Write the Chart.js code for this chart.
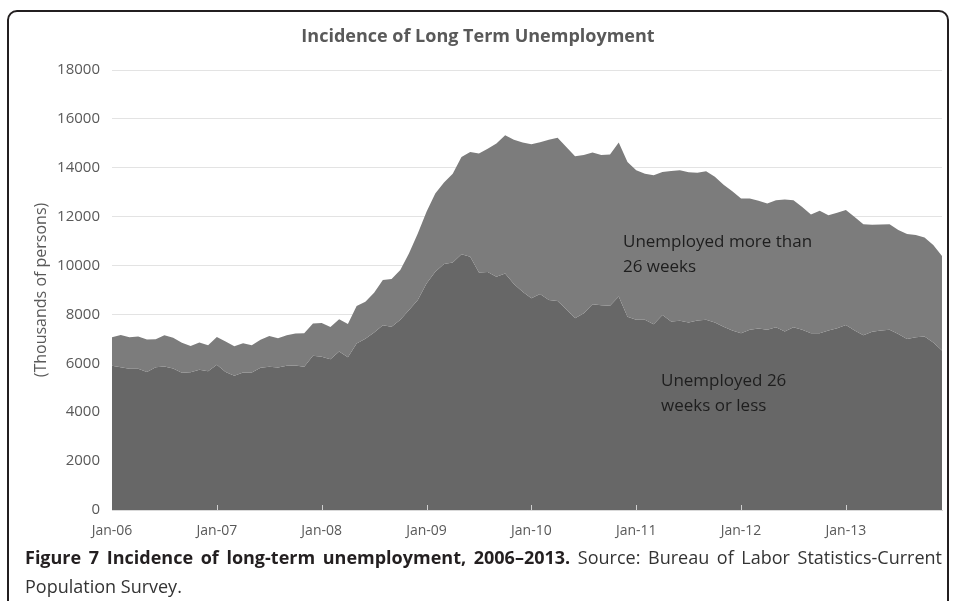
<!DOCTYPE html>
<html>
<head>
<meta charset="utf-8">
<script src="https://cdn.jsdelivr.net/npm/chart.js@4"></script>
<style>
  html, body { margin: 0; padding: 0; background: #fff; }
  body { width: 956px; height: 601px; overflow: hidden; position: relative; font-family: 'Open Sans', sans-serif; }
  #frame { position: absolute; left: 7px; top: 10px; width: 938px; height: 640px; border: 2px solid #231f20; border-radius: 10px 10px 0 0; }
  #wrap { position: absolute; left: 0; top: 0; width: 956px; height: 545px; }
  .title { position: absolute; top: 23px; left: 0; width: 956px; text-align: center; font-weight: bold; font-size: 18px; line-height: 24px; color: #595959; }
  .note { position: absolute; font-size: 17px; line-height: 25px; color: #1e1e1e; white-space: nowrap; }
  #caption { position: absolute; left: 25px; top: 543px; width: 917px; font-size: 18px; line-height: 29px; color: #333; text-align: justify; text-align-last: left; }
  #caption b { color: #231f20; }
</style>
</head>
<body>
<div id="frame"></div>
<div id="wrap"><canvas id="chart" width="956" height="545"></canvas></div>
<div class="title">Incidence of Long Term Unemployment</div>
<div class="note" style="left:623px; top:228px;">Unemployed more than<br>26 weeks</div>
<div class="note" style="left:661px; top:367px;">Unemployed 26<br>weeks or less</div>
<div id="caption"><b>Figure 7 Incidence of long-term unemployment, 2006–2013.</b> Source: Bureau of Labor Statistics-Current Population Survey.</div>

<script>
// ---- data (thousands of persons, monthly Jan-06 .. Dec-13) ----
const months = ['Jan', 'Feb', 'Mar', 'Apr', 'May', 'Jun', 'Jul', 'Aug', 'Sep', 'Oct', 'Nov', 'Dec'];
const years = ['06', '07', '08', '09', '10', '11', '12', '13'];
const tickLabels = ['Jan-06', 'Jan-07', 'Jan-08', 'Jan-09', 'Jan-10', 'Jan-11', 'Jan-12', 'Jan-13'];

const categories = [];
years.forEach((y) => months.forEach((m) => categories.push(m + '-' + y)));

// top edge of the stack = all unemployed
const totalUnemployed = [
  7070, 7160, 7070, 7100, 6970, 6990, 7150, 7050, 6840, 6710, 6850, 6740,
  7080, 6890, 6700, 6820, 6740, 6960, 7120, 7030, 7150, 7220, 7230, 7630,
  7650, 7490, 7800, 7610, 8350, 8520, 8890, 9410, 9450, 9820, 10500, 11310,
  12200, 12950, 13400, 13760, 14440, 14650, 14580, 14780, 14990, 15330, 15150, 15030,
  14960, 15040, 15150, 15230, 14850, 14470, 14520, 14620, 14520, 14540, 15030, 14240,
  13900, 13760, 13690, 13830, 13870, 13900, 13820, 13800, 13860, 13630, 13310, 13040,
  12740, 12740, 12650, 12540, 12670, 12700, 12670, 12400, 12090, 12240, 12060, 12160,
  12270, 11990, 11690, 11670, 11680, 11690, 11450, 11290, 11250, 11150, 10840, 10390,
];

// unemployed 26 weeks or less
const shortTerm = [
  5900, 5840, 5780, 5780, 5650, 5840, 5870, 5790, 5610, 5640, 5740, 5680,
  5940, 5650, 5490, 5630, 5630, 5820, 5860, 5830, 5900, 5910, 5860, 6310,
  6270, 6170, 6480, 6250, 6810, 7010, 7260, 7560, 7500, 7780, 8180, 8590,
  9270, 9750, 10060, 10120, 10460, 10360, 9720, 9740, 9540, 9680, 9250, 8930,
  8660, 8840, 8590, 8550, 8210, 7840, 8050, 8420, 8380, 8360, 8730, 7910,
  7780, 7780, 7600, 7980, 7710, 7740, 7670, 7750, 7780, 7670, 7500, 7340,
  7230, 7370, 7420, 7370, 7480, 7300, 7480, 7370, 7230, 7230, 7340, 7440,
  7570, 7340, 7150, 7290, 7340, 7370, 7200, 7000, 7070, 7100, 6850, 6520,
];

const yTicks = { min: 0, max: 18000, step: 2000 };

// small tick marks inside the plot at each January
const janTicks = {
  id: 'janTicks',
  afterDatasetsDraw(chart) {
    const { ctx, chartArea, scales: { x } } = chart;
    ctx.save();
    ctx.strokeStyle = '#cfcfcf';
    ctx.lineWidth = 1;
    tickLabels.slice(1).forEach((l) => {
      const px = Math.round(x.getPixelForValue(categories.indexOf(l))) + 0.5;
      ctx.beginPath();
      ctx.moveTo(px, chartArea.bottom);
      ctx.lineTo(px, chartArea.bottom - 5);
      ctx.stroke();
    });
    ctx.restore();
  },
};

new Chart(document.getElementById('chart'), {
  type: 'line',
  data: {
    labels: categories,
    datasets: [
      { label: 'Unemployed more than 26 weeks', data: totalUnemployed, fill: '+1', backgroundColor: '#7c7c7c', borderWidth: 0, pointRadius: 0, tension: 0 },
      { label: 'Unemployed 26 weeks or less', data: shortTerm, fill: 'origin', backgroundColor: '#676767', borderWidth: 0, pointRadius: 0, tension: 0 },
    ],
  },
  options: {
    responsive: false,
    animation: false,
    layout: { padding: { top: 70, right: 14, left: 0, bottom: 0 } },
    plugins: { legend: { display: false }, tooltip: { enabled: false } },
    scales: {
      x: {
        grid: { drawOnChartArea: false, drawTicks: false },
        border: { color: '#d9d9d9' },
        ticks: {
          autoSkip: false, maxRotation: 0, minRotation: 0, padding: 13,
          color: '#595959', font: { family: "'Open Sans', sans-serif", size: 14 },
          callback: (v, i) => (tickLabels.includes(categories[i]) ? categories[i] : ''),
        },
        afterFit: (s) => { s.height = 35; },
      },
      y: {
        min: yTicks.min, max: yTicks.max,
        grid: { color: '#e3e3e3', drawTicks: false },
        border: { display: false },
        ticks: {
          stepSize: yTicks.step, padding: 12, color: '#595959',
          font: { family: "'Open Sans', sans-serif", size: 15 },
          callback: (v) => String(v),
        },
        title: { display: true, text: '(Thousands of persons)', color: '#595959', font: { family: "'Open Sans', sans-serif", size: 16 }, padding: { top: 32, bottom: 0 } },
        afterFit: (s) => { s.width = 112; },
      },
    },
  },
  plugins: [janTicks],
});
</script>
</body>
</html>
